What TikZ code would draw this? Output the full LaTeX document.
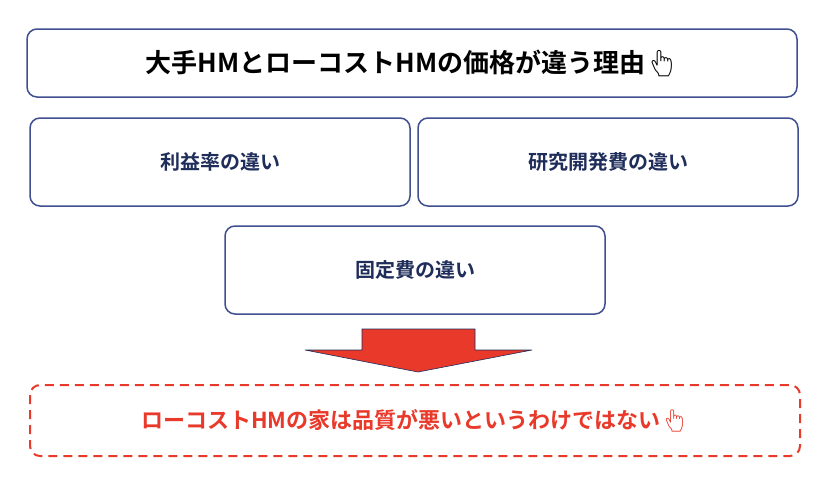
\documentclass[tikz,border=0pt]{standalone}
\usepackage{fontspec}
\setmainfont{Noto Sans CJK JP Bold}
\newfontfamily\emj{Noto Emoji}
\definecolor{bd}{HTML}{3F4F8F}
\definecolor{tx}{HTML}{1F2D5A}
\definecolor{rd}{HTML}{E8392A}
\begin{document}
\begin{tikzpicture}[x=1pt,y=-1pt,
  box/.style={draw=bd,line width=1.5pt,rounded corners=10pt,fill=white},
  lbl/.style={text=tx,font=\fontsize{20}{24}\selectfont}]
\useasboundingbox (0,0) rectangle (828,488);
\draw[box] (27,29) rectangle (797,97);
\node (t) at (412,63) {\fontsize{26}{30}\selectfont 大手HMとローコストHMの価格が違う理由{\emj 👆}};
\draw[box] (30,118) rectangle (410,206);
\node[lbl] (a) at (220,162) {利益率の違い};
\draw[box] (418,118) rectangle (798,206);
\node[lbl] (b) at (608,162) {研究開発費の違い};
\draw[box] (225,226) rectangle (605,314);
\node[lbl] (c) at (415,270) {固定費の違い};
\draw[fill=rd,draw=tx,line width=0.6pt] (362,329) -- (475,329) -- (475,350) -- (532,350) -- (418,372) -- (305,350) -- (362,350) -- cycle;
\draw[draw=rd,line width=2pt,dashed,dash pattern=on 9pt off 6pt,rounded corners=10pt] (30,385) rectangle (800,456);
\node (d) at (415,421) {\color{rd}\fontsize{22}{26}\selectfont ローコストHMの家は品質が悪いというわけではない{\emj 👆}};
\end{tikzpicture}
\end{document}
